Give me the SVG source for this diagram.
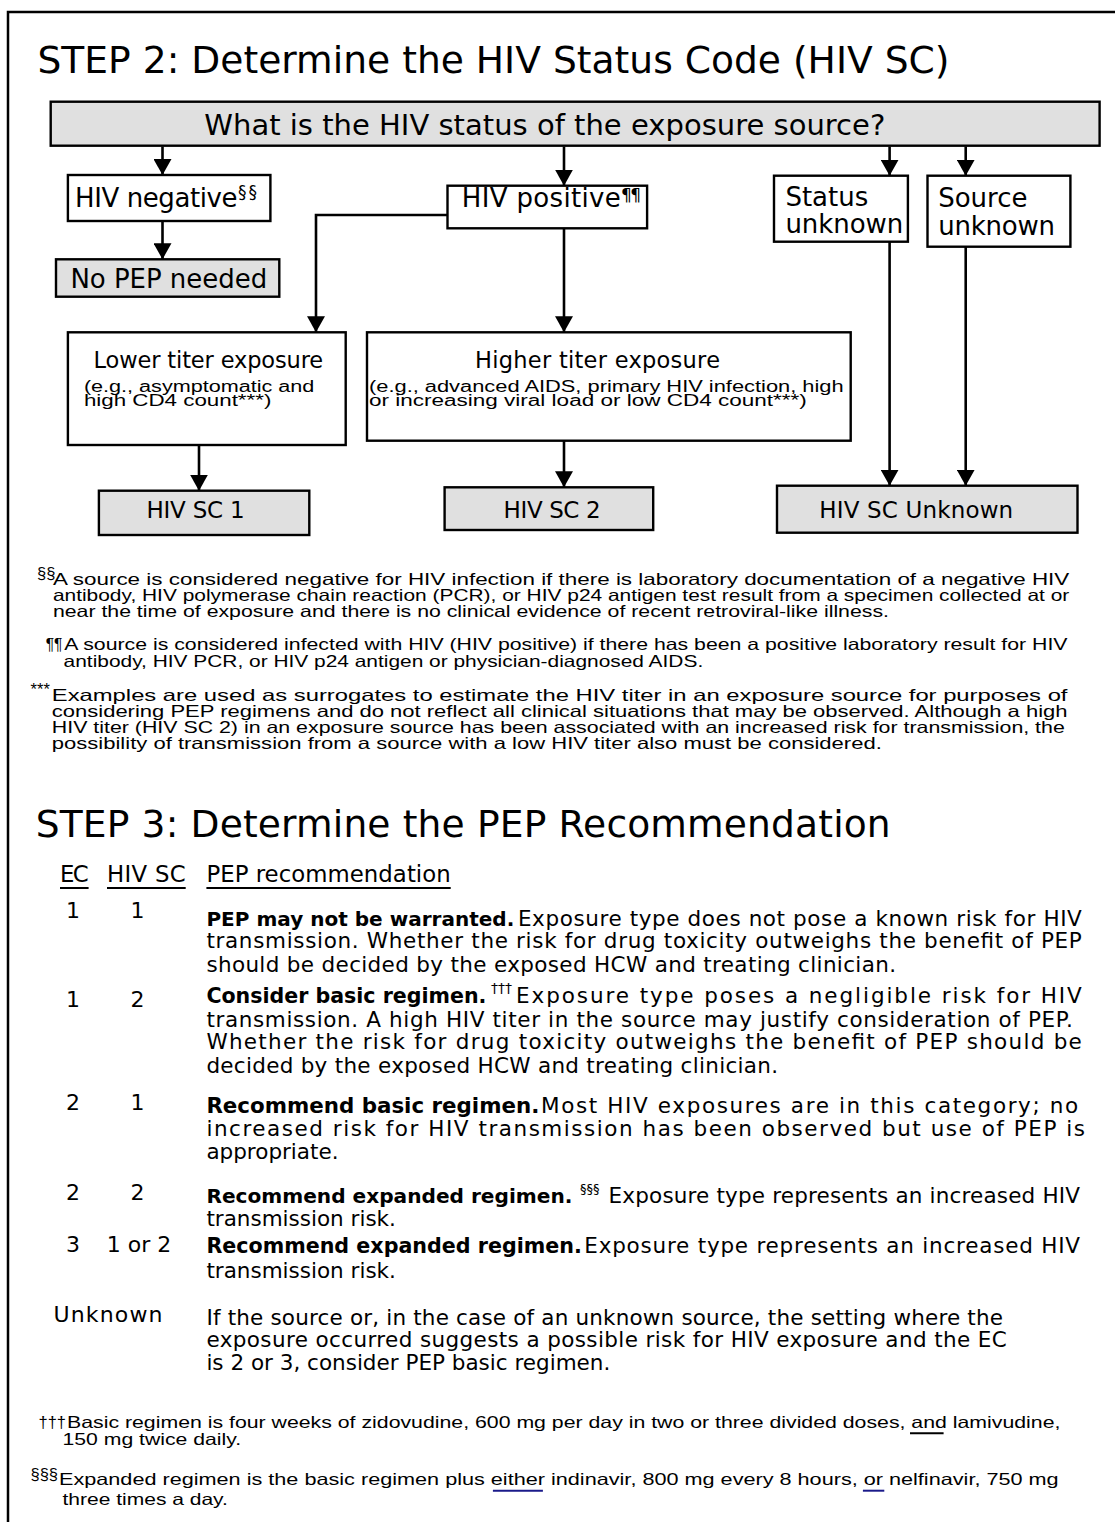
<svg xmlns="http://www.w3.org/2000/svg" width="1115" height="1522" viewBox="0 0 1115 1522">
<defs>
<style>
text{font-family:"DejaVu Sans","Liberation Sans",sans-serif;fill:#000}
.b{font-weight:bold}
.box{fill:#fff;stroke:#000;stroke-width:2.4}
.gbox{fill:#e0e0e0;stroke:#000;stroke-width:2.4}
.conn{stroke:#000;stroke-width:2.6;fill:none;marker-end:url(#ah)}
.ttl{font-size:37.6px}
.lbl{font-size:26px}
.sub{font-family:"Liberation Sans",Arial,sans-serif;font-size:16px}
.fn{font-family:"Liberation Sans",Arial,sans-serif;font-size:16.5px}
.row{font-size:21.5px}
.num{font-size:22px;text-anchor:middle}
.ul{stroke:#000;stroke-width:2}
.nv{stroke:#1a1a8a;stroke-width:2}
</style>
<marker id="ah" markerUnits="userSpaceOnUse" markerWidth="16" markerHeight="18" refX="16" refY="9" orient="auto">
<path d="M0,0 L16,9 L0,18 Z" fill="#000"/>
</marker>
</defs>
<rect width="1115" height="1522" fill="#fff"/>
<path d="M8,1522 V12 H1115" fill="none" stroke="#000" stroke-width="2.5"/>

<text class="ttl" x="37.5" y="72.7" textLength="912">STEP 2: Determine the HIV Status Code (HIV SC)</text>

<g id="connectors">
<line class="conn" x1="162.5" y1="146.5" x2="162.5" y2="175"/>
<line class="conn" x1="564" y1="146.5" x2="564" y2="185.7"/>
<line class="conn" x1="889.6" y1="146.5" x2="889.6" y2="175.7"/>
<line class="conn" x1="965.7" y1="146.5" x2="965.7" y2="175.7"/>
<line class="conn" x1="162.5" y1="221" x2="162.5" y2="259.3"/>
<polyline class="conn" points="447.5,215 316,215 316,332.3"/>
<line class="conn" x1="564" y1="228.3" x2="564" y2="332.3"/>
<line class="conn" x1="199" y1="445" x2="199" y2="490.7"/>
<line class="conn" x1="564" y1="440.7" x2="564" y2="487.3"/>
<line class="conn" x1="889.6" y1="241.7" x2="889.6" y2="485.7"/>
<line class="conn" x1="965.7" y1="246.7" x2="965.7" y2="485.7"/>
</g>

<g id="question">
<rect class="gbox" x="50.7" y="101.7" width="1048.9" height="44"/>
<text x="204.3" y="135" font-size="29" textLength="681">What is the HIV status of the exposure source?</text>
</g>
<g id="hiv-negative">
<rect class="box" x="67.9" y="175" width="202.5" height="46"/>
<text class="lbl" x="75" y="206.7" textLength="162.5">HIV negative</text>
<text x="238" y="198" font-size="17" letter-spacing="2">§§</text>
</g>
<g id="no-pep">
<rect class="gbox" x="56" y="259.3" width="223.3" height="37.4"/>
<text class="lbl" x="70.4" y="288.3" textLength="196.8">No PEP needed</text>
</g>
<g id="hiv-positive">
<rect class="box" x="447.5" y="185.7" width="199.6" height="42.6"/>
<text class="lbl" x="461.8" y="206.7" textLength="159">HIV positive</text>
<text x="621" y="201" font-size="17" textLength="20">¶¶</text>
</g>
<g id="status-unknown">
<rect class="box" x="774" y="175.7" width="133.9" height="66"/>
<text class="lbl" x="785.4" y="206">Status</text>
<text class="lbl" x="785.4" y="233.3" textLength="117.8">unknown</text>
</g>
<g id="source-unknown">
<rect class="box" x="927.5" y="175.7" width="142.9" height="71"/>
<text class="lbl" x="938.2" y="206.7">Source</text>
<text class="lbl" x="938.2" y="235" textLength="116.8">unknown</text>
</g>
<g id="lower-titer">
<rect class="box" x="67.9" y="332.3" width="277.8" height="112.7"/>
<text x="93.6" y="368.3" font-size="22.5" textLength="229.6">Lower titer exposure</text>
<text class="sub" x="83.9" y="391.5" textLength="230.4" lengthAdjust="spacingAndGlyphs">(e.g., asymptomatic and</text>
<text class="sub" x="83.9" y="406" textLength="187.5" lengthAdjust="spacingAndGlyphs">high CD4 count***)</text>
</g>
<g id="higher-titer">
<rect class="box" x="367" y="332.3" width="483.7" height="108.4"/>
<text x="475" y="368.3" font-size="22.5" textLength="245">Higher titer exposure</text>
<text class="sub" x="369" y="391.5" textLength="474.6" lengthAdjust="spacingAndGlyphs">(e.g., advanced AIDS, primary HIV infection, high</text>
<text class="sub" x="369" y="406" textLength="437.8" lengthAdjust="spacingAndGlyphs">or increasing viral load or low CD4 count***)</text>
</g>
<g id="hiv-sc-1">
<rect class="gbox" x="98.9" y="490.7" width="210.4" height="44.3"/>
<text x="146.4" y="518.3" font-size="23" textLength="98.2">HIV SC 1</text>
</g>
<g id="hiv-sc-2">
<rect class="gbox" x="444.6" y="487.3" width="208.6" height="42.7"/>
<text x="503.6" y="518.3" font-size="23" textLength="97">HIV SC 2</text>
</g>
<g id="hiv-sc-unknown">
<rect class="gbox" x="777" y="485.7" width="300.5" height="47"/>
<text x="819.3" y="518.3" font-size="23" textLength="193.9">HIV SC Unknown</text>
</g>

<g id="footnotes-step2">
<text class="fn" x="37" y="579" font-size="12">§§</text>
<text class="fn" x="52.9" y="585" textLength="1016.4" lengthAdjust="spacingAndGlyphs">A source is considered negative for HIV infection if there is laboratory documentation of a negative HIV</text>
<text class="fn" x="52.9" y="601" textLength="1016.4" lengthAdjust="spacingAndGlyphs">antibody, HIV polymerase chain reaction (PCR), or HIV p24 antigen test result from a specimen collected at or</text>
<text class="fn" x="52.9" y="616.7" textLength="836.1" lengthAdjust="spacingAndGlyphs">near the time of exposure and there is no clinical evidence of recent retroviral-like illness.</text>
<text class="fn" x="45.7" y="650" font-size="15" textLength="16.8" lengthAdjust="spacingAndGlyphs">¶¶</text>
<text class="fn" x="64.3" y="650" textLength="1003.2" lengthAdjust="spacingAndGlyphs">A source is considered infected with HIV (HIV positive) if there has been a positive laboratory result for HIV</text>
<text class="fn" x="63.6" y="666.7" textLength="639.6" lengthAdjust="spacingAndGlyphs">antibody, HIV PCR, or HIV p24 antigen or physician-diagnosed AIDS.</text>
<text class="fn" x="30.4" y="695" font-size="13" textLength="19.6">***</text>
<text class="fn" x="51.8" y="700.7" textLength="1015.7" lengthAdjust="spacingAndGlyphs">Examples are used as surrogates to estimate the HIV titer in an exposure source for purposes of</text>
<text class="fn" x="51.8" y="716.7" textLength="1015.7" lengthAdjust="spacingAndGlyphs">considering PEP regimens and do not reflect all clinical situations that may be observed. Although a high</text>
<text class="fn" x="51.8" y="732.7" textLength="1013" lengthAdjust="spacingAndGlyphs">HIV titer (HIV SC 2) in an exposure source has been associated with an increased risk for transmission, the</text>
<text class="fn" x="51.8" y="748.5" textLength="830" lengthAdjust="spacingAndGlyphs">possibility of transmission from a source with a low HIV titer also must be considered.</text>
</g>

<text class="ttl" x="35.7" y="837.3" textLength="855">STEP 3: Determine the PEP Recommendation</text>

<g id="table-header">
<text x="60" y="881.7" font-size="22.8" textLength="28.6">EC</text>
<text x="107" y="881.7" font-size="22.8" textLength="78.7">HIV SC</text>
<text x="206.4" y="881.7" font-size="22.8" textLength="244.3">PEP recommendation</text>
<line class="ul" x1="60" y1="888" x2="88.6" y2="888"/>
<line class="ul" x1="107" y1="888" x2="185.7" y2="888"/>
<line class="ul" x1="206.4" y1="888" x2="450.7" y2="888"/>
</g>

<g id="row-1-1">
<text class="num" x="73" y="918.3">1</text>
<text class="num" x="137.5" y="918.3">1</text>
<text class="b" x="206.4" y="925.7" font-size="20" textLength="307.9" lengthAdjust="spacingAndGlyphs">PEP may not be warranted.</text>
<text class="row" x="517.9" y="925.7" textLength="563.9">Exposure type does not pose a known risk for HIV</text>
<text class="row" x="206.4" y="948.3" textLength="875.4">transmission. Whether the risk for drug toxicity outweighs the benefit of PEP</text>
<text class="row" x="206.4" y="972.3" textLength="689.6">should be decided by the exposed HCW and treating clinician.</text>
</g>
<g id="row-1-2">
<text class="num" x="73" y="1006.7">1</text>
<text class="num" x="137.5" y="1006.7">2</text>
<text class="b" x="206.4" y="1002.7" font-size="20.4" textLength="280" lengthAdjust="spacingAndGlyphs">Consider basic regimen.</text>
<text x="491" y="993" font-size="14">†††</text>
<text class="row" x="516" y="1002.7" textLength="565.8">Exposure type poses a negligible risk for HIV</text>
<text class="row" x="206.4" y="1026.7" textLength="866.5">transmission. A high HIV titer in the source may justify consideration of PEP.</text>
<text class="row" x="206.4" y="1049.3" textLength="875.4">Whether the risk for drug toxicity outweighs the benefit of PEP should be</text>
<text class="row" x="206.4" y="1073.3" textLength="571.6">decided by the exposed HCW and treating clinician.</text>
</g>
<g id="row-2-1">
<text class="num" x="73" y="1110">2</text>
<text class="num" x="137.5" y="1110">1</text>
<text class="b" x="206.4" y="1113.3" font-size="21.3" textLength="332.9" lengthAdjust="spacingAndGlyphs">Recommend basic regimen.</text>
<text class="row" x="541" y="1113.3" textLength="537.2">Most HIV exposures are in this category; no</text>
<text class="row" x="206.4" y="1136" textLength="878.6">increased risk for HIV transmission has been observed but use of PEP is</text>
<text class="row" x="206.4" y="1159">appropriate.</text>
</g>
<g id="row-2-2">
<text class="num" x="73" y="1200">2</text>
<text class="num" x="137.5" y="1200">2</text>
<text class="b" x="206.4" y="1202.5" font-size="20" textLength="366" lengthAdjust="spacingAndGlyphs">Recommend expanded regimen.</text>
<text x="580" y="1193" font-size="13">§§§</text>
<text class="row" x="608.6" y="1202.5" textLength="471.4">Exposure type represents an increased HIV</text>
<text class="row" x="206.4" y="1226">transmission risk.</text>
</g>
<g id="row-3">
<text class="num" x="73" y="1251.7">3</text>
<text class="num" x="139" y="1251.7">1 or 2</text>
<text class="b" x="206.4" y="1253.3" font-size="20.5" textLength="375.4" lengthAdjust="spacingAndGlyphs">Recommend expanded regimen.</text>
<text class="row" x="584.3" y="1253.3" textLength="495.7">Exposure type represents an increased HIV</text>
<text class="row" x="206.4" y="1278.3">transmission risk.</text>
</g>
<g id="row-unknown">
<text class="num" x="108" y="1321.7" textLength="108.9">Unknown</text>
<text class="row" x="206.4" y="1325" textLength="796.6">If the source or, in the case of an unknown source, the setting where the</text>
<text class="row" x="206.4" y="1347.3" textLength="800.4">exposure occurred suggests a possible risk for HIV exposure and the EC</text>
<text class="row" x="206.4" y="1370">is 2 or 3, consider PEP basic regimen.</text>
</g>

<g id="footnotes-step3">
<text class="fn" x="66" y="1428.3" text-anchor="end" font-size="17">†††</text>
<text class="fn" x="67" y="1428.3" textLength="993.4" lengthAdjust="spacingAndGlyphs">Basic regimen is four weeks of zidovudine, 600 mg per day in two or three divided doses, and lamivudine,</text>
<line class="ul" x1="910" y1="1433.3" x2="943.6" y2="1433.3"/>
<text class="fn" x="62.5" y="1445" textLength="178.6" lengthAdjust="spacingAndGlyphs">150 mg twice daily.</text>
<text class="fn" x="58" y="1480" font-size="13" text-anchor="end">§§§</text>
<text class="fn" x="59" y="1485" textLength="999.6" lengthAdjust="spacingAndGlyphs">Expanded regimen is the basic regimen plus either indinavir, 800 mg every 8 hours, or nelfinavir, 750 mg</text>
<line class="nv" x1="492.9" y1="1490.7" x2="542.9" y2="1490.7"/>
<line class="nv" x1="862.9" y1="1490.7" x2="884.3" y2="1490.7"/>
<text class="fn" x="62.5" y="1505" textLength="165.4" lengthAdjust="spacingAndGlyphs">three times a day.</text>
</g>
</svg>
